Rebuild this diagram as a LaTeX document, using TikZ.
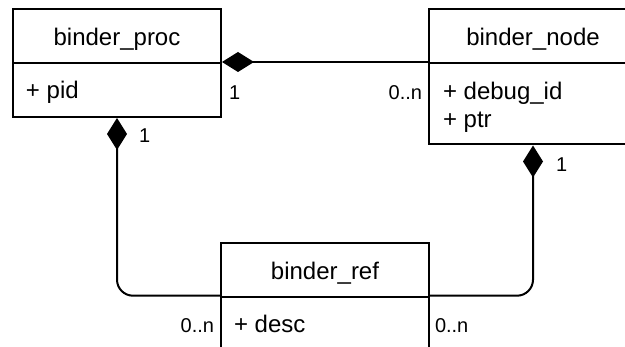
\documentclass[tikz,border=0pt]{standalone}
\usepackage{fontspec}
\setmainfont{Liberation Sans}
\usetikzlibrary{arrows.meta}
\begin{document}
\begin{tikzpicture}[x=1pt,y=-1pt,line width=2pt,
  classbox/.style={draw,line width=2pt,minimum width=208pt,inner sep=0pt},
  title/.style={anchor=base,inner sep=0pt,font=\fontsize{24}{28}\selectfont},
  attr/.style={anchor=base west,inner sep=0pt,font=\fontsize{24}{28}\selectfont,align=left},
  mult/.style={inner sep=0pt,font=\fontsize{20}{24}\selectfont},
  comp/.style={{Diamond[length=32pt,width=20pt]}-},
  roundedpath/.style={rounded corners=16pt}]
\useasboundingbox (0,0) rectangle (625,347);
\clip (0,0) rectangle (625,347);
% binder_proc
\node[classbox,minimum height=54pt] (procH) at (117,36) {};
\node[classbox,minimum height=54pt] (procA) at (117,90) {};
\node[title] (procT) at (117,46) {binder\_proc};
\node[attr] (procX) at (25,99) {+ pid};
% binder_node
\node[classbox,minimum height=54pt] (nodeH) at (533,36) {};
\node[classbox,minimum height=81.5pt] (nodeA) at (533,103.75) {};
\node[title] (nodeT) at (533,46) {binder\_node};
\node[attr] (nodeX1) at (442,100) {+ debug\_id};
\node[attr] (nodeX2) at (442,128) {+ ptr};
% binder_ref
\node[classbox,minimum height=54pt] (refH) at (325,269.7) {};
\node[classbox,minimum height=54pt] (refA) at (325,323.7) {};
\node[title] (refT) at (325,279.7) {binder\_ref};
\node[attr] (refX) at (233,333) {+ desc};
% connectors
\draw[comp] (procA.north east) -- (nodeA.north west);
\draw[comp,roundedpath] (procA.south) |- (refA.north west);
\draw[comp,roundedpath] (nodeA.south) |- (refA.north east);
% multiplicities
\node[mult,anchor=base west] (m1) at (228,100) {1};
\node[mult,anchor=base east] (m2) at (423,100) {0..n};
\node[mult,anchor=base west] (m3) at (138,143) {1};
\node[mult,anchor=base west] (m4) at (555,172) {1};
\node[mult,anchor=base east] (m5) at (215,333) {0..n};
\node[mult,anchor=base west] (m6) at (434,333) {0..n};
\end{tikzpicture}
\end{document}
